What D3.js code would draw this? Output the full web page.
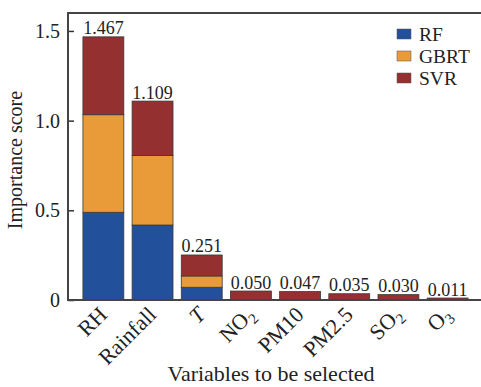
<!DOCTYPE html>
<html>
<head>
<meta charset="utf-8">
<script src="https://cdn.jsdelivr.net/npm/d3@7"></script>
<style>
  body { margin: 0; background: #fff; }
  text { font-family: "Liberation Serif", "Times New Roman", serif; fill: #222; }
</style>
</head>
<body>
<svg width="481" height="387"></svg>
<script>
const categories = ["RH", "Rainfall", "T", "NO2", "PM10", "PM2.5", "SO2", "O3"];
const labelMain = ["RH", "Rainfall", "T", "NO", "PM10", "PM2.5", "SO", "O"];
const labelSub = ["", "", "", "2", "", "", "2", "3"];
const labelItalic = [false, false, true, false, false, false, false, false];

const rf = [0.489, 0.418, 0.071, 0.002, 0.002, 0.001, 0.001, 0.0];
const gbrt = [0.544, 0.388, 0.063, 0.001, 0.001, 0.001, 0.001, 0.0];
const svr = [0.434, 0.303, 0.117, 0.047, 0.044, 0.033, 0.028, 0.011];

const seriesNames = ["RF", "GBRT", "SVR"];
const colors = ["#23509a", "#e99a39", "#94302f"];
const yTicks = [0, 0.5, 1.0, 1.5];

const rows = categories.map((c, i) => ({ cat: c, RF: rf[i], GBRT: gbrt[i], SVR: svr[i] }));
const stacked = d3.stack().keys(seriesNames)(rows);

const svg = d3.select("svg");
const plotLeft = 68, plotTop = 13, plotBottom = 300, plotRight = 481;

const x = d3
  .scaleBand()
  .domain(categories)
  .range([78, 473])
  .paddingInner(0.168)
  .paddingOuter(0.1);

const y = d3.scaleLinear().domain([0, 1.6]).range([plotBottom, plotTop]);

// bars
svg
  .append("g")
  .selectAll("g")
  .data(stacked)
  .enter()
  .append("g")
  .attr("fill", (d, i) => colors[i])
  .selectAll("rect")
  .data((d) => d)
  .enter()
  .append("rect")
  .attr("x", (d) => x(d.data.cat))
  .attr("y", (d) => y(d[1]))
  .attr("width", x.bandwidth())
  .attr("height", (d) => y(d[0]) - y(d[1]))
  .attr("stroke", "#3a3a3a")
  .attr("stroke-width", 0.8);

// totals
svg
  .append("g")
  .selectAll("text")
  .data(rows)
  .enter()
  .append("text")
  .attr("x", (d) => x(d.cat) + x.bandwidth() / 2)
  .attr("y", (d) => y(d.RF + d.GBRT + d.SVR) - 2.5)
  .attr("text-anchor", "middle")
  .attr("font-size", 18)
  .text((d) => d3.format(".3f")(d.RF + d.GBRT + d.SVR));

// y axis
const yAxis = svg
  .append("g")
  .attr("transform", `translate(${plotLeft},0)`)
  .call(
    d3.axisLeft(y)
      .tickValues(yTicks)
      .tickFormat((d) => (d === 0 ? "0" : d3.format(".1f")(d)))
      .tickSizeInner(-6)
      .tickSizeOuter(0)
      .tickPadding(8)
  );
yAxis.select(".domain").remove();
yAxis.selectAll("line").attr("stroke", "#333").attr("stroke-width", 1.5);
yAxis.selectAll("text").attr("font-size", 20).attr("font-family", "Liberation Serif").attr("fill", "#222");

// frame lines
const frame = svg.append("g").attr("stroke", "#444").attr("stroke-width", 2).attr("fill", "none");
frame.append("line").attr("x1", plotLeft).attr("x2", plotLeft).attr("y1", plotTop).attr("y2", plotBottom);
frame.append("line").attr("x1", plotLeft - 1).attr("x2", plotRight).attr("y1", plotTop).attr("y2", plotTop);
frame.append("line").attr("x1", plotLeft - 1).attr("x2", plotRight).attr("y1", plotBottom).attr("y2", plotBottom);

// x tick labels
const xl = svg
  .append("g")
  .selectAll("text")
  .data(categories)
  .enter()
  .append("text")
  .attr("transform", (d) => `translate(${x(d) + x.bandwidth() / 2 + 5},${plotBottom + 16}) rotate(-45)`)
  .attr("text-anchor", "end")
  .attr("font-size", 22);
xl.append("tspan")
  .attr("font-style", (d, i) => (labelItalic[i] ? "italic" : "normal"))
  .text((d, i) => labelMain[i]);
xl.filter((d, i) => labelSub[i] !== "")
  .append("tspan")
  .attr("font-size", 15)
  .attr("dy", 5)
  .text((d) => labelSub[categories.indexOf(d)]);

// legend
const legend = svg
  .append("g")
  .selectAll("g")
  .data(seriesNames)
  .enter()
  .append("g")
  .attr("transform", (d, i) => `translate(397,${29 + i * 22})`);
legend
  .append("rect")
  .attr("width", 14)
  .attr("height", 10)
  .attr("fill", (d, i) => colors[i])
  .attr("stroke", "#555")
  .attr("stroke-width", 0.5);
legend
  .append("text")
  .attr("x", 22)
  .attr("y", 11.5)
  .attr("font-size", 19.5)
  .text((d) => d);

// axis titles
svg
  .append("text")
  .attr("x", 271)
  .attr("y", 381)
  .attr("text-anchor", "middle")
  .attr("font-size", 22)
  .text("Variables to be selected");

svg
  .append("text")
  .attr("transform", "translate(22,160) rotate(-90)")
  .attr("text-anchor", "middle")
  .attr("font-size", 20)
  .text("Importance score");
</script>
</body>
</html>
